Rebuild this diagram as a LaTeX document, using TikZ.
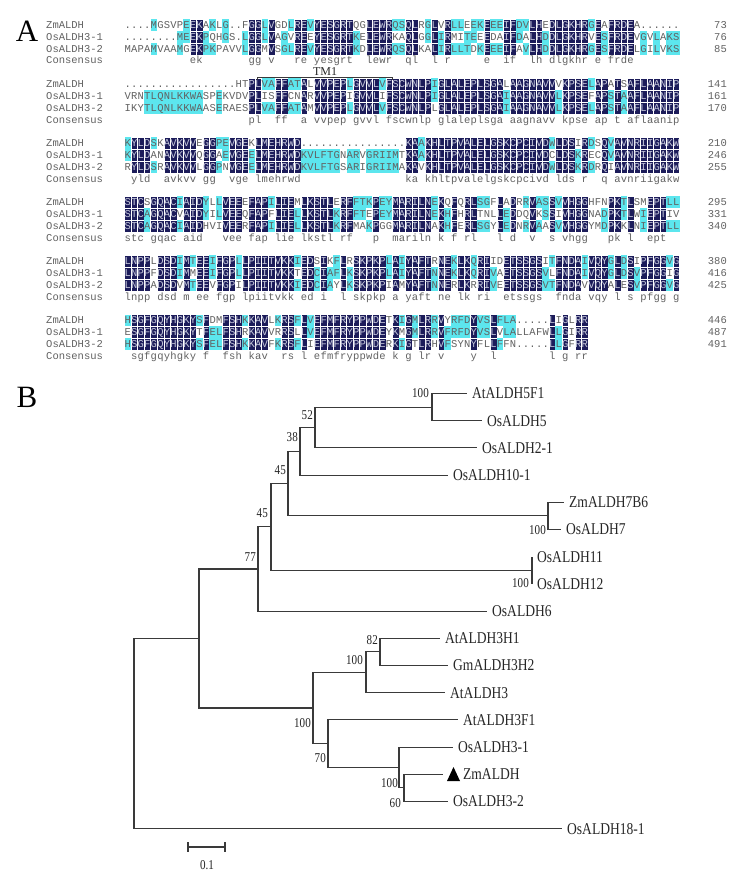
\documentclass[tikz,border=0pt]{standalone}
\usepackage{fontspec}
\setmainfont{Liberation Serif}
\setmonofont{Liberation Mono}
\newfontfamily\treefont{Liberation Serif}[FakeStretch=0.82]
\usetikzlibrary{positioning}

\definecolor{resdark}{HTML}{1C1C5A}
\definecolor{rescyan}{HTML}{5CE6EE}
\definecolor{resgray}{HTML}{626262}
\definecolor{reslight}{HTML}{C4C6DA}
\definecolor{treeline}{HTML}{3A3A3A}

% alignment grid, in px
\newcommand\alnxz{124.5}
\newcommand\alncw{6.53}
\newcommand\alnhw{3.265}
\newcommand\alnhh{5.95}
\newcommand\alnrh{11.9}
\newcommand\alnbl{3.2}

\tikzset{
  res/.style={font=\ttfamily\fontsize{10.5}{12}\selectfont, text=resgray, inner sep=0pt, anchor=base},
  seqname/.style={res, anchor=base west},
  seqnum/.style={res, anchor=base east},
  cell1/.style={fill=rescyan},
  cell2/.style={fill=resdark, draw=white, line width=0.3pt},
  tone0/.style={},
  tone1/.style={},
  tone2/.style={text=reslight},
  branch/.style={draw=treeline, line width=1.05pt},
  leaf/.style={font=\treefont\fontsize{16.5}{18}\selectfont, text=black!85, inner sep=0pt},
  boot/.style={font=\treefont\fontsize{13.5}{15}\selectfont, text=black!85, inner sep=0pt, anchor=east},
  panel/.style={font=\fontsize{31}{31}\selectfont, inner sep=0pt},
}

% one residue: x, y, letter, 0 plain / 1 cyan / 2 dark
\newcommand\alncell[4]{%
  \ifnum#4>0 \path[cell#4] (#1-\alnhw,#2-\alnhh) rectangle (#1+\alnhw,#2+\alnhh);\fi
  \node[res, tone#4] at (#1,#2+\alnbl) {#3};}

\newcommand\alnlabels[4]{%
  \node[seqname] (nmZm) at (46,#1+\alnbl) {ZmALDH};
  \node[seqname] (nmOsa) at (46,#1+\alnrh+\alnbl) {OsALDH3-1};
  \node[seqname] (nmOsb) at (46,#1+2*\alnrh+\alnbl) {OsALDH3-2};
  \node[seqname] (nmCons) at (46,#1+3*\alnrh+\alnbl) {Consensus};
  \node[seqnum] (nuZm) at (727,#1+\alnbl) {#2};
  \node[seqnum] (nuOsa) at (727,#1+\alnrh+\alnbl) {#3};
  \node[seqnum] (nuOsb) at (727,#1+2*\alnrh+\alnbl) {#4};}

\ExplSyntaxOn
\str_new:N \l__aln_a_str
\str_new:N \l__aln_b_str
\str_new:N \l__aln_c_str
\str_new:N \l__aln_ca_str
\str_new:N \l__aln_cb_str
\str_new:N \l__aln_cc_str
\str_new:N \l__aln_cons_str
\int_new:N \l__aln_sa_int
\int_new:N \l__aln_sb_int
\int_new:N \l__aln_sc_int
\bool_new:N \l__aln_full_bool
\fp_new:N \l__aln_y_fp

\cs_new_protected:Npn \__aln_pair:NNNN #1#2#3#4
  {
    \bool_if:nT
      {
        ! \str_if_eq_p:Vn #1 { . }
        && ( \str_if_eq_p:NN #1 #2 || \str_if_eq_p:NN #1 #3 )
      }
      { \int_set:Nn #4 { 1 } }
  }

\cs_new_protected:Npn \__aln_put:nnNN #1#2#3#4
  {
    \use:x
      {
        \exp_not:N \alncell
          { \fp_eval:n { \alnxz + ( #1 - 0.5 ) * \alncw } }
          { \fp_eval:n { \l__aln_y_fp + #2 * \alnrh } }
          { #3 }
          { \int_use:N #4 }
      }
  }

\cs_new_protected:Npn \__aln_column:n #1
  {
    \str_set:Nx \l__aln_ca_str { \str_item:Nn \l__aln_a_str { #1 } }
    \str_set:Nx \l__aln_cb_str { \str_item:Nn \l__aln_b_str { #1 } }
    \str_set:Nx \l__aln_cc_str { \str_item:Nn \l__aln_c_str { #1 } }
    \int_zero:N \l__aln_sa_int
    \int_zero:N \l__aln_sb_int
    \int_zero:N \l__aln_sc_int
    \bool_set_false:N \l__aln_full_bool
    \bool_if:nT
      {
        ! \str_if_eq_p:Vn \l__aln_ca_str { . }
        && \str_if_eq_p:NN \l__aln_ca_str \l__aln_cb_str
        && \str_if_eq_p:NN \l__aln_cb_str \l__aln_cc_str
      }
      {
        \bool_set_true:N \l__aln_full_bool
        \int_set:Nn \l__aln_sa_int { 2 }
        \int_set:Nn \l__aln_sb_int { 2 }
        \int_set:Nn \l__aln_sc_int { 2 }
      }
    \bool_if:NF \l__aln_full_bool
      {
        \__aln_pair:NNNN \l__aln_ca_str \l__aln_cb_str \l__aln_cc_str \l__aln_sa_int
        \__aln_pair:NNNN \l__aln_cb_str \l__aln_ca_str \l__aln_cc_str \l__aln_sb_int
        \__aln_pair:NNNN \l__aln_cc_str \l__aln_ca_str \l__aln_cb_str \l__aln_sc_int
      }
    \__aln_put:nnNN { #1 } { 0 } \l__aln_ca_str \l__aln_sa_int
    \__aln_put:nnNN { #1 } { 1 } \l__aln_cb_str \l__aln_sb_int
    \__aln_put:nnNN { #1 } { 2 } \l__aln_cc_str \l__aln_sc_int
    \bool_if:NT \l__aln_full_bool
      {
        \str_set:Nx \l__aln_cons_str { \str_lowercase:f { \l__aln_ca_str } }
        \__aln_put:nnNN { #1 } { 3 } \l__aln_cons_str \c_zero_int
      }
  }

% y of first row, three sequences, three end numbers
\NewDocumentCommand \alnblock { m m m m m m m }
  {
    \fp_set:Nn \l__aln_y_fp { #1 }
    \str_set:Nn \l__aln_a_str { #2 }
    \str_set:Nn \l__aln_b_str { #3 }
    \str_set:Nn \l__aln_c_str { #4 }
    \int_step_function:nnN { 1 } { \str_count:N \l__aln_a_str } \__aln_column:n
    \alnlabels { #1 } { #5 } { #6 } { #7 }
  }
\ExplSyntaxOff

\begin{document}
\begin{tikzpicture}[x=1pt, y=-1pt]
\useasboundingbox (0,0) rectangle (742,889);
\fill[white] (0,0) rectangle (742,889);

% ---- A: alignment
\node[panel] (A) at (27,31.5) {A};

\alnblock{25}
  {....MGSVPEEKAKLG..FGGLVGDLREVYESGRTQGLEWRQSQLRGLVRLLEEKEEEIFDVLHEDLGKHRGEAFRDEA......}
  {........MEEKPQHGS.LGGLVAGVREEYESGRTKELEWRKAQLGGLIRMITEEEDAIFDALHDDLGKHRVESFRDEVGVLAKS}
  {MAPAMVAAMGEKPKPAVVLGGMVSGLREVYESGRTKDLEWRQSQLKALIRLLTDKEEEIFAVLHDDLGKHRGESFRDELGILVKS}
  {73}{76}{85}
\alnblock{84.1}
  {.................HTPLVAFFATALVVPEPLGVVLVFSCWNLPIGLALEPLSGALAAGNAVVVKPSELAPATSAFLAANIP}
  {VRNTLQNLKKWASPEKVDVPLISFFCNARVVPEPIGVVLIFSCWNLPIGLALEPLSGAIAAGNAVVLKPSEFAPSTAAFLAANIP}
  {IKYTLQNLKKWAASERAESPLVAFFATAMVVPEPLGVVLVFSCWNLPLGLALEPLSGAIAAGNAVVLKPSELAPSTAAFLAANIP}
  {141}{161}{170}
\alnblock{143.2}
  {KYLDSKAVKVVEGGPEVGEKLMEHRWD................KAAKHLTPVALELGSKCPCIVDWLDSIRDSQVAVNRIIGAKW}
  {KYLDANAVKVVQGGAEVGEELMEHRWDKVLFTGNARVGRIIMTKAAKHLTPVALELGSKCPCIVDCLDSKRECQVAVNRIIGAKW}
  {RYLDSRAVKVVLGGPNVGEELMEHRWDKVLFTGSARIGRIIMAKAVKHLTPVALELGSKCPCIVDWLDSKRDRQIAVNRIIGAKW}
  {210}{246}{255}
\alnblock{202.3}
  {STCSGQACIAIDYLLVEEEFAPILIEMLKSTLERFFTKPEYMARILNEKQFQRLSGFLADRRVASSVVHGGHFNPKTLSMEPTLL}
  {STCAGQACVAIDYILVEEQFAPFLIELLKSTLKRFFTEPEYMARILNEKHFHRLTNLLEDDQVKSSIVHGGNADPKTLWIEPTIV}
  {STCAGQACIAIDHVIVEERFAPILIELLKSTLKRFMAKPGGMARILNAKHFERLSGYLEDNRVAASVVHGGYMDPKKLNIEPTLL}
  {295}{331}{340}
\alnblock{261.4}
  {LNPPLDSDIMTEEIFGPLLPIITVKKIEDSIKFLRSKPKPLAIYAFTRNEKLKQRIIDETSSGSITFNDAIVQYGLDSIPFGGVG}
  {LNPPFDSDIMMEEIFGPLLPIITVKKTEDCIAFLKSKPKPLAIYAFTNNEKLKQRIVAETSSGSVLFNDAIVQYGLDSVPFGGIG}
  {LNPPADSDVMTEEVFGPILPIITVKKIEDCIAYLKSKPKPIAMYAFTNNERLKRRIVEETSSGSVTFNDAVVQYALESVPFGGVG}
  {380}{416}{425}
\alnblock{320.5}
  {HSGFGQYHGKYSFDMFSHKKAVLKRSFLVEFMFRYPPWDETKIGMLRRVYRFDYVSLFLA.....LIGLRR}
  {ESGFGQYHGKYTFELFSHRKAVVRRSLLVEFMFRYPPWDEYKMGMLRRVFRFDYVSLVLALLAFWLLGIRR}
  {HSGFGQYHGKYSFELFSHKKAVFKRSFLIEFMFRYPPWDERKIGTLRHVFSYNYFLLFFN.....LLGFRR}
  {446}{487}{491}

% TM1 mark over block 2
\coordinate (tmL) at (257,80);
\coordinate (tmR) at (392,80);
\draw[treeline, line width=0.6pt] (tmL) -- ++(0,-3) -| (tmR);
\node[font=\fontsize{12}{12}\selectfont, text=black!85, inner sep=0pt, anchor=base] (tm1) at (325,75) {TM1};

% ---- B: tree
\node[panel] (B) at (27,397) {B};

% inner nodes
\coordinate (root) at (134,733.6);
\coordinate (nmid) at (199,638.5);
\coordinate (n77) at (258,569.0);
\coordinate (n45b) at (271,526.95);
\coordinate (n45a) at (288,483.6);
\coordinate (n38) at (300,451.3);
\coordinate (n52) at (315,427.5);
\coordinate (n100a) at (432,407.1);
\coordinate (n100b) at (548,515.9);
\coordinate (n100c) at (532,570.3);
\coordinate (n3) at (313,708.0);
\coordinate (n100d) at (366,672.3);
\coordinate (n82) at (380,651.9);
\coordinate (n70) at (328,743.7);
\coordinate (n100e) at (399,767.5);
\coordinate (n60) at (404,787.9);

% leaf tips
\coordinate (tAt5F1) at (467,393.5);
\coordinate (tOs5) at (482,420.7);
\coordinate (tOs2) at (477,447.9);
\coordinate (tOs10) at (448,475.1);
\coordinate (tZm7B6) at (564,502.3);
\coordinate (tOs7) at (561,529.5);
\coordinate (tOs11) at (532,556.7);
\coordinate (tOs12) at (532,583.9);
\coordinate (tOs6) at (487,611.1);
\coordinate (tAt3H1) at (440,638.3);
\coordinate (tGm3H2) at (448,665.5);
\coordinate (tAt3) at (445,692.7);
\coordinate (tAt3F1) at (458,719.9);
\coordinate (tOs31) at (453,747.1);
\coordinate (tZm) at (443,774.3);
\coordinate (tOs32) at (448,801.5);
\coordinate (tOs18) at (562,828.7);

% branches
\draw[branch] (root) |- (nmid) (root) |- (tOs18);
\draw[branch] (nmid) |- (n77) (nmid) |- (n3);
\draw[branch] (n77) |- (n45b) (n77) |- (tOs6);
\draw[branch] (n45b) |- (n45a) (n45b) |- (n100c);
\draw[branch] (n45a) |- (n38) (n45a) |- (n100b);
\draw[branch] (n38) |- (n52) (n38) |- (tOs10);
\draw[branch] (n52) |- (n100a) (n52) |- (tOs2);
\draw[branch] (n100a) |- (tAt5F1) (n100a) |- (tOs5);
\draw[branch] (n100b) |- (tZm7B6) (n100b) |- (tOs7);
\draw[branch] (n100c) |- (tOs11) (n100c) |- (tOs12);
\draw[branch] (n3) |- (n100d) (n3) |- (n70);
\draw[branch] (n100d) |- (n82) (n100d) |- (tAt3);
\draw[branch] (n82) |- (tAt3H1) (n82) |- (tGm3H2);
\draw[branch] (n70) |- (tAt3F1) (n70) |- (n100e);
\draw[branch] (n100e) |- (tOs31) (n100e) |- (n60);
\draw[branch] (n60) |- (tZm) (n60) |- (tOs32);

% leaf names
\node[leaf, right=5pt of tAt5F1] (At5F1) {AtALDH5F1};
\node[leaf, right=5pt of tOs5] (Os5) {OsALDH5};
\node[leaf, right=5pt of tOs2] (Os2) {OsALDH2-1};
\node[leaf, right=5pt of tOs10] (Os10) {OsALDH10-1};
\node[leaf, right=5pt of tZm7B6] (Zm7B6) {ZmALDH7B6};
\node[leaf, right=5pt of tOs7] (Os7) {OsALDH7};
\node[leaf, right=5pt of tOs11] (Os11) {OsALDH11};
\node[leaf, right=5pt of tOs12] (Os12) {OsALDH12};
\node[leaf, right=5pt of tOs6] (Os6) {OsALDH6};
\node[leaf, right=5pt of tAt3H1] (At3H1) {AtALDH3H1};
\node[leaf, right=5pt of tGm3H2] (Gm3H2) {GmALDH3H2};
\node[leaf, right=5pt of tAt3] (At3) {AtALDH3};
\node[leaf, right=5pt of tAt3F1] (At3F1) {AtALDH3F1};
\node[leaf, right=5pt of tOs31] (Os31) {OsALDH3-1};
\node[leaf, right=20pt of tZm] (Zm) {ZmALDH};
\node[leaf, right=5pt of tOs32] (Os32) {OsALDH3-2};
\node[leaf, right=5pt of tOs18] (Os18) {OsALDH18-1};
\fill[black] (447,781) -- (460,781) -- (453.5,767) -- cycle;

% bootstrap values
\node[boot] (b100a) at (429,393) {100};
\node[boot] (b52) at (313,415) {52};
\node[boot] (b38) at (298,437) {38};
\node[boot] (b45a) at (286,470) {45};
\node[boot] (b45b) at (268,513) {45};
\node[boot] (b77) at (256,557) {77};
\node[boot] (b100b) at (546,530) {100};
\node[boot] (b100c) at (529,583) {100};
\node[boot] (b82) at (378,640) {82};
\node[boot] (b100d) at (363,660) {100};
\node[boot] (b100f) at (311,723) {100};
\node[boot] (b70) at (326,758) {70};
\node[boot] (b100e) at (398,783) {100};
\node[boot] (b60) at (401,803) {60};

% scale bar
\coordinate (sbL) at (188,847);
\coordinate (sbR) at (225,847);
\draw[branch] (sbL) -- (sbR);
\draw[branch] ([yshift=5pt]sbL) -- ([yshift=-5pt]sbL);
\draw[branch] ([yshift=5pt]sbR) -- ([yshift=-5pt]sbR);
\node[boot, anchor=center] (sbtext) at (207,865) {0.1};
\end{tikzpicture}
\end{document}
